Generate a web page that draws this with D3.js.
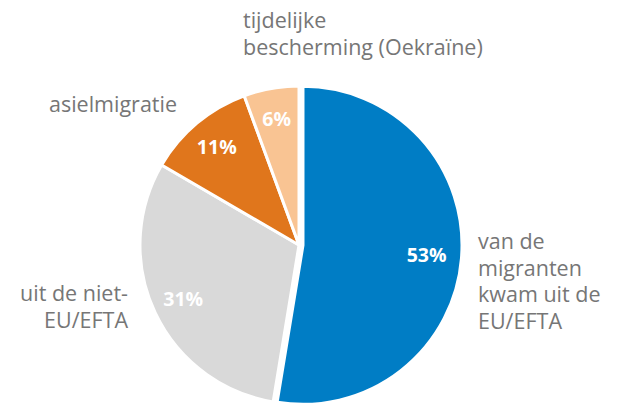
<!DOCTYPE html>
<html>
<head>
<meta charset="utf-8">
<script src="https://cdn.jsdelivr.net/npm/d3@7"></script>
<style>
  body { margin: 0; background: #fff; }
  svg text { font-family: "Open Sans", sans-serif; }
</style>
</head>
<body>
<div id="chart"></div>
<script>
// share of migrants by origin / motive (percent)
var categories = ['EU/EFTA', 'niet-EU/EFTA', 'asielmigratie', 'tijdelijke bescherming'];
var values = [52.6, 30.8, 11.0, 5.6];
var valueLabels = ['53%', '31%', '11%', '6%'];
var colors = ['#007dc5', '#d9d9d9', '#e0761c', '#f9c493'];

var width = 629, height = 409;
var cx = 299, cy = 245, radius = 159;

var svg = d3.select('#chart').append('svg')
  .attr('width', width)
  .attr('height', height);

var pie = d3.pie().sort(null).value(function(d) { return d; });
var arcs = pie(values);

var arc = d3.arc().innerRadius(0).outerRadius(radius);
var labelArc = d3.arc().innerRadius(128).outerRadius(128);

var g = svg.append('g').attr('transform', 'translate(' + cx + ',' + cy + ')');

g.selectAll('path')
  .data(arcs)
  .enter().append('path')
  .attr('d', arc)
  .attr('fill', function(d, i) { return colors[i]; })
  .attr('stroke', '#fff')
  .attr('stroke-width', 3)
  .attr('stroke-linejoin', 'round')
  .attr('transform', function(d, i) {
    // first slice pulled out a little
    if (i !== 0) return null;
    var mid = (d.startAngle + d.endAngle) / 2;
    return 'translate(' + (4 * Math.sin(mid)) + ',' + (-4 * Math.cos(mid)) + ')';
  });

g.selectAll('text.pct')
  .data(arcs)
  .enter().append('text')
  .attr('class', 'pct')
  .attr('x', function(d) { return labelArc.centroid(d)[0]; })
  .attr('y', function(d) { return labelArc.centroid(d)[1]; })
  .attr('dy', '0.35em')
  .attr('text-anchor', 'middle')
  .attr('fill', '#fff')
  .style('font-weight', 'bold')
  .style('font-size', '19.5px')
  .text(function(d, i) { return valueLabels[i]; });

// category labels outside the pie
var outerLabels = [
  { lines: ['van de', 'migranten', 'kwam uit de', 'EU/EFTA'], x: 478, y: 249, anchor: 'start' },
  { lines: ['uit de niet-', 'EU/EFTA'], x: 128, y: 301, anchor: 'end' },
  { lines: ['asielmigratie'], x: 177, y: 112, anchor: 'end' },
  { lines: ['tijdelijke', 'bescherming (Oekraïne)'], x: 243, y: 28, anchor: 'start' }
];

outerLabels.forEach(function(l) {
  var t = svg.append('text')
    .attr('x', l.x)
    .attr('y', l.y)
    .attr('text-anchor', l.anchor)
    .attr('fill', '#767676')
    .style('font-size', '21.5px');
  l.lines.forEach(function(line, i) {
    t.append('tspan')
      .attr('x', l.x)
      .attr('dy', i === 0 ? 0 : 26.5)
      .text(line);
  });
});
</script>
</body>
</html>
